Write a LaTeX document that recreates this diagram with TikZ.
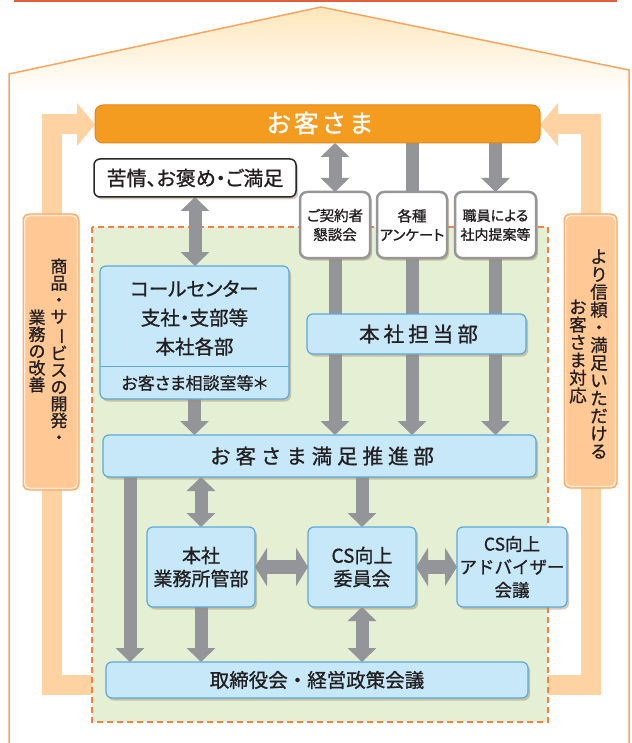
\documentclass[tikz,border=0pt]{standalone}
\usepackage{fontspec}
\usepackage{graphicx}
\setmainfont{Noto Sans CJK JP}[FakeBold=1.0]
\usetikzlibrary{arrows.meta,shadows}
\pgfdeclarelayer{back}
\pgfdeclarelayer{mid}
\pgfsetlayers{back,mid,main}
\definecolor{txt}{RGB}{35,31,32}
\definecolor{lblue}{RGB}{198,232,248}
\definecolor{bblue}{RGB}{91,168,220}
\definecolor{garrow}{RGB}{147,149,152}
\definecolor{gborder}{RGB}{150,150,152}
\definecolor{kborder}{RGB}{40,40,40}
\definecolor{shc}{RGB}{160,140,100}
\definecolor{greenfill}{RGB}{228,239,212}
\definecolor{dashc}{RGB}{240,130,70}
\definecolor{peach}{RGB}{255,210,162}
\definecolor{lfill}{RGB}{255,200,148}
\definecolor{lborder}{RGB}{248,170,100}
\definecolor{oran}{RGB}{243,156,31}
\definecolor{oborder}{RGB}{232,132,22}
\definecolor{houseline}{RGB}{250,165,95}
\definecolor{roof}{RGB}{255,230,186}
\definecolor{redline}{RGB}{228,92,62}
\newcommand\vlong{\rotatebox[origin=c]{-90}{ー}}
\newcommand\palt{\addfontfeature{RawFeature=+palt}}
\begin{document}
\begin{tikzpicture}[x=1pt,y=-1pt,
  every node/.style={inner sep=0pt, outer sep=0pt, text=txt},
  boxshadow/.style={drop shadow={shadow xshift=2pt, shadow yshift=-2.5pt, fill=shc, opacity=0.45}},
  bluebox/.style={draw=bblue, line width=1.2pt, fill=lblue, rounded corners=6pt, boxshadow},
  whitebox/.style={draw=kborder, line width=1.5pt, fill=white, rounded corners=6pt, boxshadow},
  graybox/.style={draw=gborder, line width=2.5pt, fill=white, rounded corners=7pt, boxshadow},
  labelbox/.style={draw=lborder, line width=1pt, fill=lfill, rounded corners=6pt},
  bar/.style={draw=garrow, line width=13pt},
  garr/.style={bar, -{Triangle[length=14pt,width=28pt]}},
  gdbl/.style={bar, {Triangle[length=14pt,width=28pt]}-{Triangle[length=14pt,width=28pt]}},
  hdbl/.style={bar, line width=14pt, {Triangle[length=12pt,width=38pt]}-{Triangle[length=12pt,width=38pt]}},
  peachbar/.style={draw=peach, line width=20pt, line join=miter, -{Triangle[length=18pt,width=42pt]}},
  vtextA/.style={align=center, font=\fontsize{17}{16.8}\selectfont},
  vtextB/.style={align=center, font=\fontsize{17.5}{17.7}\selectfont},
]
\useasboundingbox (0,0) rectangle (631,743);

% ---------- nodes ----------
\node (okyaku) [draw=oborder, fill=oran, line width=1pt, rounded corners=8pt,
  minimum width=445pt, minimum height=38pt] at (317.5,124) {};
\node (okyakutxt) [text=white,
  font=\fontsize{25}{25}\selectfont\addfontfeature{LetterSpace=10}] at (320,123) {お客さま};

\node (kujo) [whitebox, minimum width=202pt, minimum height=38pt,
  font=\fontsize{20}{20}\selectfont\palt] at (195,178) {苦情、お褒め・ご満足};

\node (keiyaku) [graybox, minimum width=70pt, minimum height=66pt, align=center,
  font=\fontsize{14.5}{19}\selectfont\palt] at (335,225) {ご契約者\\懇談会};
\node (kakushu) [graybox, minimum width=70pt, minimum height=66pt, align=center,
  font=\fontsize{14.5}{19}\selectfont\palt] at (412,225) {各種\\アンケート};
\node (shokuin) [graybox, minimum width=81pt, minimum height=66pt, align=center,
  font=\fontsize{14}{19}\selectfont\palt] at (495.5,225) {職員による\\社内提案等};

\node (call) [bluebox, minimum width=189pt, minimum height=133pt] at (194.5,332.5) {};
\node (calltext) [align=center, font=\fontsize{19.5}{29}\selectfont\palt] at (194.5,318)
  {コールセンター\\支社・支部等\\本社各部};
\coordinate (sepy) at (0,366);
\draw[bblue, line width=1pt] (call.west |- sepy) -- (call.east |- sepy);
\node (callsub) [font=\fontsize{17}{17}\selectfont\palt] at (194.5,383) {お客さま相談室等＊};

\node (tanto) [bluebox, minimum width=219pt, minimum height=40pt] at (416.5,334) {};
\node (tantotxt) [font=\fontsize{20.5}{20}\selectfont\addfontfeature{LetterSpace=20}] at (418.5,334) {本社担当部};

\node (suishin) [bluebox, minimum width=433pt, minimum height=42pt] at (319.5,456) {};
\node (suishintxt) [font=\fontsize{20.5}{20}\selectfont\addfontfeature{LetterSpace=24}] at (322,456) {お客さま満足推進部};

\node (gyomu) [bluebox, minimum width=108pt, minimum height=80pt, align=center,
  font=\fontsize{19}{23}\selectfont] at (201,567) {本社\\業務所管部};
\node (csiin) [bluebox, minimum width=108pt, minimum height=80pt, align=center,
  font=\fontsize{19}{23}\selectfont] at (362,567) {CS向上\\委員会};
\node (csadv) [bluebox, minimum width=110pt, minimum height=80pt, align=center,
  font=\fontsize{17.5}{23}\selectfont] at (512,567) {CS向上\\アドバイザー\\会議};

\node (torishimari) [bluebox, minimum width=422pt, minimum height=36pt,
  font=\fontsize{19.5}{19}\selectfont] at (317,680) {取締役会・経営政策会議};

% label boxes on the side bars
\node (lbox) [labelbox, minimum width=56pt, minimum height=276pt] at (51,352) {};
\draw[white, line width=0.8pt, rounded corners=4.5pt]
  ([shift={(1.8,1.8)}]lbox.north west) rectangle ([shift={(-1.8,-1.8)}]lbox.south east);
\node (lcol1) [vtextA] at (59,351) {商\\品\\・\\サ\\\vlong\\ビ\\ス\\の\\開\\発\\・};
\node (lcol2) [vtextA] at (37,351) {業\\務\\の\\改\\善};

\node (rbox) [labelbox, minimum width=53pt, minimum height=274pt] at (590.5,351) {};
\draw[white, line width=0.8pt, rounded corners=4.5pt]
  ([shift={(1.8,1.8)}]rbox.north west) rectangle ([shift={(-1.8,-1.8)}]rbox.south east);
\node (rcol1) [vtextB] at (599,354) {よ\\り\\信\\頼\\・\\満\\足\\い\\た\\だ\\け\\る};
\node (rcol2) [vtextB] at (578,351.5) {お\\客\\さ\\ま\\対\\応};

% ---------- background ----------
\begin{pgfonlayer}{back}
  \draw[redline, line width=1.5pt] (14,1) -- (617,1);
  \begin{scope}
    \clip (9,743) -- (9,74) -- (321,7) -- (629,70) -- (629,743) -- cycle;
    \shade[top color=roof, bottom color=white] (0,7) rectangle (631,92);
  \end{scope}
  \draw[houseline, line width=1.5pt, line join=miter]
    (9,743) -- (9,74) -- (321,7) -- (629,70) -- (629,743);
  \coordinate (lb) at (100,685);
  \coordinate (lc) at (52,685);
  \coordinate (lt) at (52,124.5);
  \draw[peachbar] (lb) -- (lc) -- (lt) -- (okyaku.west |- lt);
  \coordinate (rb) at (540,685);
  \coordinate (rc) at (590.5,685);
  \coordinate (rt) at (590.5,124.5);
  \draw[peachbar] (rb) -- (rc) -- (rt) -- (okyaku.east |- rt);
  \fill[greenfill] (92,227) rectangle (548,722);
  \draw[dashc, line width=1.5pt, dash pattern=on 6pt off 4pt] (92,227) rectangle (548,722);
\end{pgfonlayer}

% ---------- connectors ----------
\begin{pgfonlayer}{mid}
  \draw[gdbl] (keiyaku.north |- okyaku.south) -- (keiyaku.north);
  \draw[bar] (kakushu.north |- okyaku.south) -- (kakushu.north);
  \draw[garr] (shokuin.north |- okyaku.south) -- (shokuin.north);
  \draw[garr] (keiyaku.south) -- (keiyaku.south |- suishin.north);
  \draw[garr] (kakushu.south) -- (kakushu.south |- suishin.north);
  \draw[garr] (shokuin.south) -- (shokuin.south |- suishin.north);
  \draw[gdbl] (kujo.south) -- (kujo.south |- call.north);
  \draw[garr] (call.south) -- (call.south |- suishin.north);
  \coordinate (lx) at (130,0);
  \draw[garr] (suishin.south -| lx) -- (torishimari.north -| lx);
  \draw[gdbl] (suishin.south -| gyomu.north) -- (gyomu.north);
  \draw[garr] (suishin.south -| csiin.north) -- (csiin.north);
  \draw[hdbl] (gyomu.east) -- (csiin.west);
  \draw[hdbl] (csiin.east) -- (csadv.west);
  \draw[gdbl] (csiin.south) -- (csiin.south |- torishimari.north);
  \draw[garr] (gyomu.south) -- (gyomu.south |- torishimari.north);
\end{pgfonlayer}
\end{tikzpicture}
\end{document}
